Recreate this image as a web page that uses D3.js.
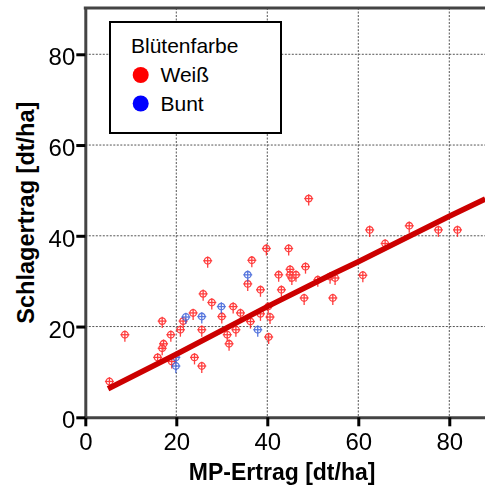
<!DOCTYPE html>
<html><head><meta charset="utf-8">
<script src="https://cdn.jsdelivr.net/npm/d3@7"></script>
<style>body{margin:0;background:#fff}svg{display:block}text{font-family:"Liberation Sans",Arial,sans-serif}</style>
</head><body><svg id="c" width="485" height="486"></svg>
<script>
const weissX=[26.9,25.9,27.8,30.0,23.7,21.5,16.9,20.9,25.6,18.8,8.7,17.2,16.9,15.9,19.0,24.0,25.6,5.3,
49.1,39.8,44.7,36.6,48.4,45.0,42.5,45.0,45.4,46.3,35.7,43.1,38.5,51.1,53.8,54.9,48.1,54.4,32.5,34.1,38.5,40.6,36.3,40.2,33.1,31.2,31.6,40.3,
62.5,71.2,77.6,81.8,65.9,61.0];
const weissY=[34.5,27.2,25.3,22.2,23.0,21.2,21.2,19.3,19.3,18.2,18.2,16.2,15.2,13.2,12.3,13.2,11.3,7.9,
48.2,37.2,37.2,34.6,33.2,32.6,31.4,31.4,30.7,31.4,29.4,28.1,28.1,30.3,31.0,30.7,26.3,26.3,24.4,23.0,22.8,22.1,21.1,24.4,19.3,18.2,16.2,17.7,
41.3,42.2,41.3,41.3,38.3,31.3];
const buntX=[29.9,25.6,22.1,19.9,19.9,35.7,37.9];
const buntY=[24.4,22.2,22.1,13.2,11.3,31.4,19.3];
const fitX=[5,20,40,54,60,80,87.9];
const fitY=[6.3,13.9,24.4,31.4,34.3,44.3,48.1];
const xTicks=[0,20,40,60,80];
const yTicks=[0,20,40,60,80];
const gridVals=[20,40,60,80];
const legendTitle="Blütenfarbe";
const legendLabels=["Weiß","Bunt"];
const legendColors=["#ff0000","#0000ff"];
const markerColors=["#ff1a1a","#3a5fd8"];
const xTitle="MP-Ertrag [dt/ha]";
const yTitle="Schlagertrag [dt/ha]";

const svg=d3.select("#c");
const L=85.3,R=485,T=8,B=417.3;
const x=d3.scaleLinear().domain([0,87.85]).range([L,R]);
const y=d3.scaleLinear().domain([0,90.2]).range([B,T]);

// grid
const g=svg.append("g").attr("stroke","#555").attr("stroke-width",1).attr("stroke-dasharray","2,1.5");
g.selectAll(".gx").data(gridVals).join("line").attr("x1",d=>x(d)).attr("x2",d=>x(d)).attr("y1",T).attr("y2",B);
g.selectAll(".gy").data(gridVals).join("line").attr("y1",d=>y(d)).attr("y2",d=>y(d)).attr("x1",L).attr("x2",R);

// points
function drawPts(xs,ys,col){
  const pg=svg.append("g").attr("stroke",col).attr("stroke-width",1.3).attr("fill","none").attr("opacity",0.85);
  const pts=xs.map((v,i)=>[v,ys[i]]);
  const m=pg.selectAll("g").data(pts).join("g").attr("transform",d=>`translate(${x(d[0])},${y(d[1])})`);
  m.append("circle").attr("r",3.3).attr("fill","rgba(255,255,255,0.4)");
  m.append("line").attr("x1",-4.5).attr("x2",4.5).attr("y1",0).attr("y2",0);
  m.append("line").attr("x1",0).attr("x2",0).attr("y1",-4.3).attr("y2",7);
}
drawPts(weissX,weissY,markerColors[0]);
drawPts(buntX,buntY,markerColors[1]);

// fit line
svg.append("path").datum(fitX.map((v,i)=>[v,fitY[i]]))
  .attr("d",d3.line().x(d=>x(d[0])).y(d=>y(d[1])))
  .attr("fill","none").attr("stroke","#cc0000").attr("stroke-width",5.5);

// axes
const ax=svg.append("g").attr("transform",`translate(0,${B})`)
  .call(d3.axisBottom(x).tickValues(xTicks).tickSize(9).tickSizeOuter(0).tickPadding(7));
const ay=svg.append("g").attr("transform",`translate(${L},0)`)
  .call(d3.axisLeft(y).tickValues(yTicks).tickSize(9).tickSizeOuter(0).tickPadding(1));
[ax,ay].forEach(a=>{
  a.select(".domain").attr("stroke","#444").attr("stroke-width",3);
  a.selectAll(".tick line").attr("stroke","#000").attr("stroke-width",3);
  a.selectAll(".tick text").attr("font-size",24).attr("fill","#000").attr("font-family","'Liberation Sans',Arial,sans-serif");
});
ay.selectAll(".tick text").attr("dy","0.44em");
svg.append("line").attr("x1",L-1.5).attr("x2",R).attr("y1",T).attr("y2",T).attr("stroke","#444").attr("stroke-width",3);

// titles
svg.append("text").attr("x",(L+R)/2-3).attr("y",480).attr("text-anchor","middle")
  .attr("font-size",23).attr("font-weight","bold").text(xTitle);
svg.append("text").attr("transform",`translate(34,${(T+B)/2}) rotate(-90)`).attr("text-anchor","middle")
  .attr("font-size",23.5).attr("font-weight","bold").text(yTitle);

// legend
const lg=svg.append("g");
lg.append("rect").attr("x",110).attr("y",22).attr("width",171).attr("height",111)
  .attr("fill","#fff").attr("stroke","#000").attr("stroke-width",2);
lg.append("text").attr("x",131).attr("y",53).attr("font-size",21).text(legendTitle);
legendLabels.forEach((lab,i)=>{
  lg.append("circle").attr("cx",140.7).attr("cy",75+i*28.5).attr("r",8).attr("fill",legendColors[i]);
  lg.append("text").attr("x",160.5).attr("y",82.3+i*28.5).attr("font-size",21).text(lab);
});
</script></body></html>
